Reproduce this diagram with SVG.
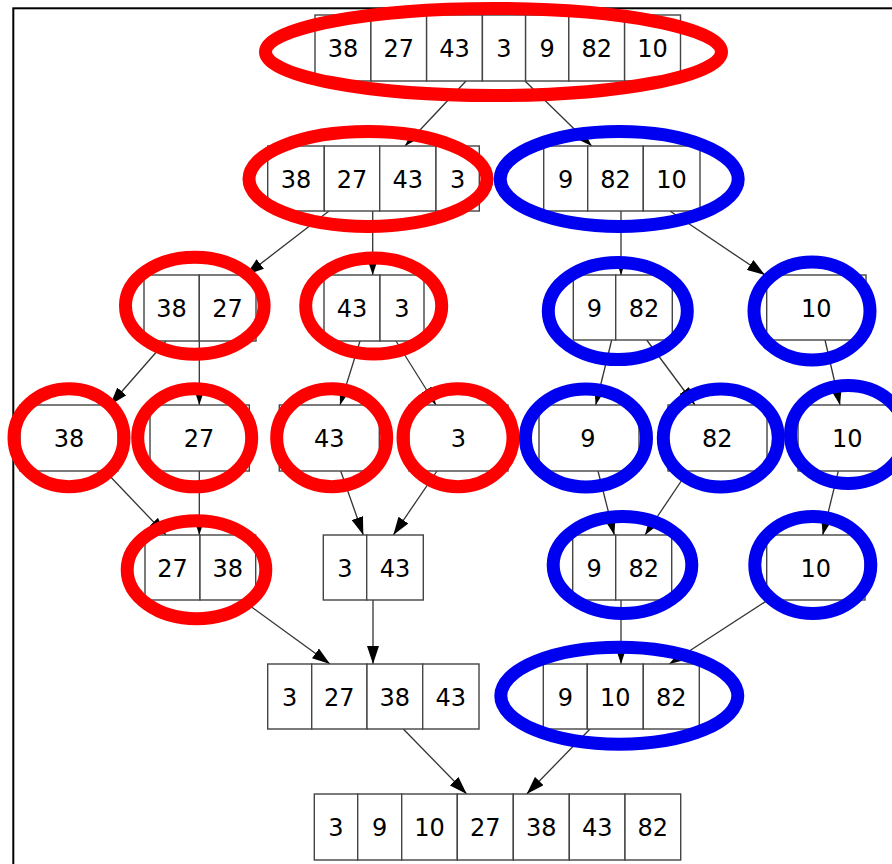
<svg xmlns="http://www.w3.org/2000/svg" width="892" height="864" viewBox="0 0 892 864">
<defs>
<marker id="ah" markerUnits="userSpaceOnUse" markerWidth="18" markerHeight="12" refX="18" refY="6" orient="auto">
<path d="M0,0 L18,6 L0,12 z" fill="#000"/>
</marker>
</defs>
<style>
.c{fill:#fff;stroke:#444;stroke-width:1.4}
.t{font-family:"DejaVu Sans",sans-serif;font-size:24px;fill:#000;text-anchor:middle}
.e{fill:none;stroke:#333;stroke-width:1.3;marker-end:url(#ah)}
.r{fill:none;stroke:#ff0000;stroke-width:13}
.b{fill:none;stroke:#0000f0;stroke-width:13}
</style>
<rect x="0" y="0" width="892" height="864" fill="#fff"/>
<rect x="13.3" y="8.3" width="900" height="900" fill="none" stroke="#000" stroke-width="2"/>
<g id="connectors">
<line class="e" x1="466" y1="81" x2="405" y2="146"/>
<line class="e" x1="525" y1="81" x2="591.7" y2="146"/>
<line class="e" x1="329" y1="211" x2="246" y2="275"/>
<line class="e" x1="372.7" y1="211" x2="372.7" y2="275"/>
<line class="e" x1="621" y1="211" x2="621" y2="275"/>
<line class="e" x1="670" y1="211" x2="765" y2="275"/>
<line class="e" x1="166" y1="341" x2="110" y2="405"/>
<line class="e" x1="199.3" y1="341" x2="199.3" y2="405"/>
<line class="e" x1="360" y1="341" x2="340" y2="405"/>
<line class="e" x1="396" y1="341" x2="436" y2="405"/>
<line class="e" x1="611.7" y1="340" x2="595.7" y2="405"/>
<line class="e" x1="646.7" y1="340" x2="695" y2="405"/>
<line class="e" x1="825" y1="340" x2="840" y2="405"/>
<line class="e" x1="105" y1="471" x2="166" y2="535"/>
<line class="e" x1="199.3" y1="471" x2="199.3" y2="535"/>
<line class="e" x1="340.7" y1="471" x2="363.3" y2="535"/>
<line class="e" x1="437" y1="471" x2="393.3" y2="535"/>
<line class="e" x1="598" y1="471" x2="614.3" y2="535"/>
<line class="e" x1="688" y1="471" x2="645" y2="535"/>
<line class="e" x1="838.3" y1="471" x2="822.7" y2="535"/>
<line class="e" x1="242" y1="600" x2="330" y2="664"/>
<line class="e" x1="373" y1="600" x2="373" y2="664"/>
<line class="e" x1="621" y1="600" x2="621" y2="664"/>
<line class="e" x1="768" y1="600" x2="669.3" y2="664"/>
<line class="e" x1="403.3" y1="729" x2="466.7" y2="794"/>
<line class="e" x1="590" y1="729" x2="526.7" y2="794"/>
</g>
<g id="n_top">
<rect class="c" x="315" y="15" width="55.9" height="66"/><rect class="c" x="370.9" y="15" width="55.7" height="66"/><rect class="c" x="426.6" y="15" width="55.8" height="66"/><rect class="c" x="482.4" y="15" width="43.2" height="66"/><rect class="c" x="525.6" y="15" width="43.2" height="66"/><rect class="c" x="568.8" y="15" width="55.8" height="66"/><rect class="c" x="624.6" y="15" width="55.9" height="66"/>
<text class="t" x="343" y="57">38</text><text class="t" x="398.8" y="57">27</text><text class="t" x="454.5" y="57">43</text><text class="t" x="504" y="57">3</text><text class="t" x="547.2" y="57">9</text><text class="t" x="596.7" y="57">82</text><text class="t" x="652.5" y="57">10</text>
</g>
<g id="n_l1">
<rect class="c" x="267.7" y="146" width="56.6" height="65"/><rect class="c" x="324.3" y="146" width="55.4" height="65"/><rect class="c" x="379.7" y="146" width="56.3" height="65"/><rect class="c" x="436" y="146" width="43.3" height="65"/>
<text class="t" x="296" y="187.5">38</text><text class="t" x="352" y="187.5">27</text><text class="t" x="407.8" y="187.5">43</text><text class="t" x="457.6" y="187.5">3</text>
</g>
<g id="n_r1">
<rect class="c" x="543.7" y="146" width="44" height="65"/><rect class="c" x="587.7" y="146" width="55.6" height="65"/><rect class="c" x="643.3" y="146" width="56.7" height="65"/>
<text class="t" x="565.7" y="187.5">9</text><text class="t" x="615.5" y="187.5">82</text><text class="t" x="671.6" y="187.5">10</text>
</g>
<g id="n_3827">
<rect class="c" x="144" y="275" width="55.3" height="66"/><rect class="c" x="199.3" y="275" width="56.7" height="66"/>
<text class="t" x="171.6" y="317">38</text><text class="t" x="227.6" y="317">27</text>
</g>
<g id="n_433">
<rect class="c" x="324" y="275" width="56" height="66"/><rect class="c" x="380" y="275" width="44" height="66"/>
<text class="t" x="352" y="317">43</text><text class="t" x="402" y="317">3</text>
</g>
<g id="n_982a">
<rect class="c" x="573.3" y="275" width="42.4" height="65"/><rect class="c" x="615.7" y="275" width="56.6" height="65"/>
<text class="t" x="594.5" y="316.5">9</text><text class="t" x="644" y="316.5">82</text>
</g>
<g id="n_10a">
<rect class="c" x="766.7" y="275" width="99.3" height="65"/>
<text class="t" x="816.3" y="316.5">10</text>
</g>
<g id="n_38">
<rect class="c" x="20" y="405" width="98" height="66"/>
<text class="t" x="69" y="447">38</text>
</g>
<g id="n_27">
<rect class="c" x="150" y="405" width="99.3" height="66"/>
<text class="t" x="199" y="447">27</text>
</g>
<g id="n_43">
<rect class="c" x="279.3" y="405" width="100" height="66"/>
<text class="t" x="329.3" y="447">43</text>
</g>
<g id="n_3">
<rect class="c" x="409" y="405" width="99" height="66"/>
<text class="t" x="458.3" y="447">3</text>
</g>
<g id="n_9">
<rect class="c" x="539" y="405" width="100" height="66"/>
<text class="t" x="588" y="447">9</text>
</g>
<g id="n_82">
<rect class="c" x="668" y="405" width="99" height="66"/>
<text class="t" x="717.3" y="447">82</text>
</g>
<g id="n_10b">
<rect class="c" x="798" y="405" width="99" height="66"/>
<text class="t" x="847.3" y="447">10</text>
</g>
<g id="n_2738">
<rect class="c" x="145" y="535" width="55" height="65"/><rect class="c" x="200" y="535" width="55.7" height="65"/>
<text class="t" x="172.5" y="576.5">27</text><text class="t" x="227.8" y="576.5">38</text>
</g>
<g id="n_343">
<rect class="c" x="323.3" y="535" width="43.4" height="65"/><rect class="c" x="366.7" y="535" width="56.6" height="65"/>
<text class="t" x="345" y="576.5">3</text><text class="t" x="395" y="576.5">43</text>
</g>
<g id="n_982b">
<rect class="c" x="572.7" y="535" width="43" height="65"/><rect class="c" x="615.7" y="535" width="56" height="65"/>
<text class="t" x="594.2" y="576.5">9</text><text class="t" x="643.7" y="576.5">82</text>
</g>
<g id="n_10c">
<rect class="c" x="766.7" y="535" width="98.3" height="65"/>
<text class="t" x="815.8" y="576.5">10</text>
</g>
<g id="n_3273843">
<rect class="c" x="267.7" y="664" width="44" height="65"/><rect class="c" x="311.7" y="664" width="55.3" height="65"/><rect class="c" x="367" y="664" width="55.7" height="65"/><rect class="c" x="422.7" y="664" width="56.3" height="65"/>
<text class="t" x="289.7" y="705.5">3</text><text class="t" x="339.3" y="705.5">27</text><text class="t" x="394.8" y="705.5">38</text><text class="t" x="450.8" y="705.5">43</text>
</g>
<g id="n_91082">
<rect class="c" x="543.3" y="664" width="44" height="65"/><rect class="c" x="587.3" y="664" width="56" height="65"/><rect class="c" x="643.3" y="664" width="56" height="65"/>
<text class="t" x="565.3" y="705.5">9</text><text class="t" x="615.3" y="705.5">10</text><text class="t" x="671.3" y="705.5">82</text>
</g>
<g id="n_sorted">
<rect class="c" x="314.3" y="794" width="43.4" height="66"/><rect class="c" x="357.7" y="794" width="44" height="66"/><rect class="c" x="401.7" y="794" width="55.6" height="66"/><rect class="c" x="457.3" y="794" width="56" height="66"/><rect class="c" x="513.3" y="794" width="56" height="66"/><rect class="c" x="569.3" y="794" width="55.7" height="66"/><rect class="c" x="625" y="794" width="55.7" height="66"/>
<text class="t" x="336" y="836">3</text><text class="t" x="379.7" y="836">9</text><text class="t" x="429.5" y="836">10</text><text class="t" x="485.3" y="836">27</text><text class="t" x="541.3" y="836">38</text><text class="t" x="597.2" y="836">43</text><text class="t" x="652.8" y="836">82</text>
</g>
<g id="highlights">
<ellipse class="r" cx="493.5" cy="52" rx="228" ry="43.5" stroke-width="12"/>
<ellipse class="r" cx="368" cy="179" rx="119" ry="47.5"/>
<ellipse class="b" cx="619.2" cy="179" rx="119" ry="47.5"/>
<ellipse class="r" cx="194.8" cy="305.7" rx="69.3" ry="48.5"/>
<ellipse class="r" cx="373.7" cy="306" rx="68" ry="48"/>
<ellipse class="b" cx="617.8" cy="311" rx="69.5" ry="48.5"/>
<ellipse class="b" cx="812" cy="311" rx="58" ry="49"/>
<ellipse class="r" cx="69" cy="437.8" rx="55" ry="49"/>
<ellipse class="r" cx="194.7" cy="437.8" rx="57" ry="49"/>
<ellipse class="r" cx="331.7" cy="437.8" rx="55" ry="49"/>
<ellipse class="r" cx="458" cy="437.8" rx="55" ry="49"/>
<ellipse class="b" cx="586" cy="438" rx="60.5" ry="49"/>
<ellipse class="b" cx="720.8" cy="438" rx="57.5" ry="49"/>
<ellipse class="b" cx="848" cy="434.5" rx="57.5" ry="49"/>
<ellipse class="r" cx="196.5" cy="569.7" rx="69.3" ry="49"/>
<ellipse class="b" cx="622.5" cy="565" rx="69.3" ry="48.5"/>
<ellipse class="b" cx="812.8" cy="565" rx="58" ry="48.5"/>
<ellipse class="b" cx="619.3" cy="695.8" rx="118.5" ry="48.5"/>
</g>
</svg>
